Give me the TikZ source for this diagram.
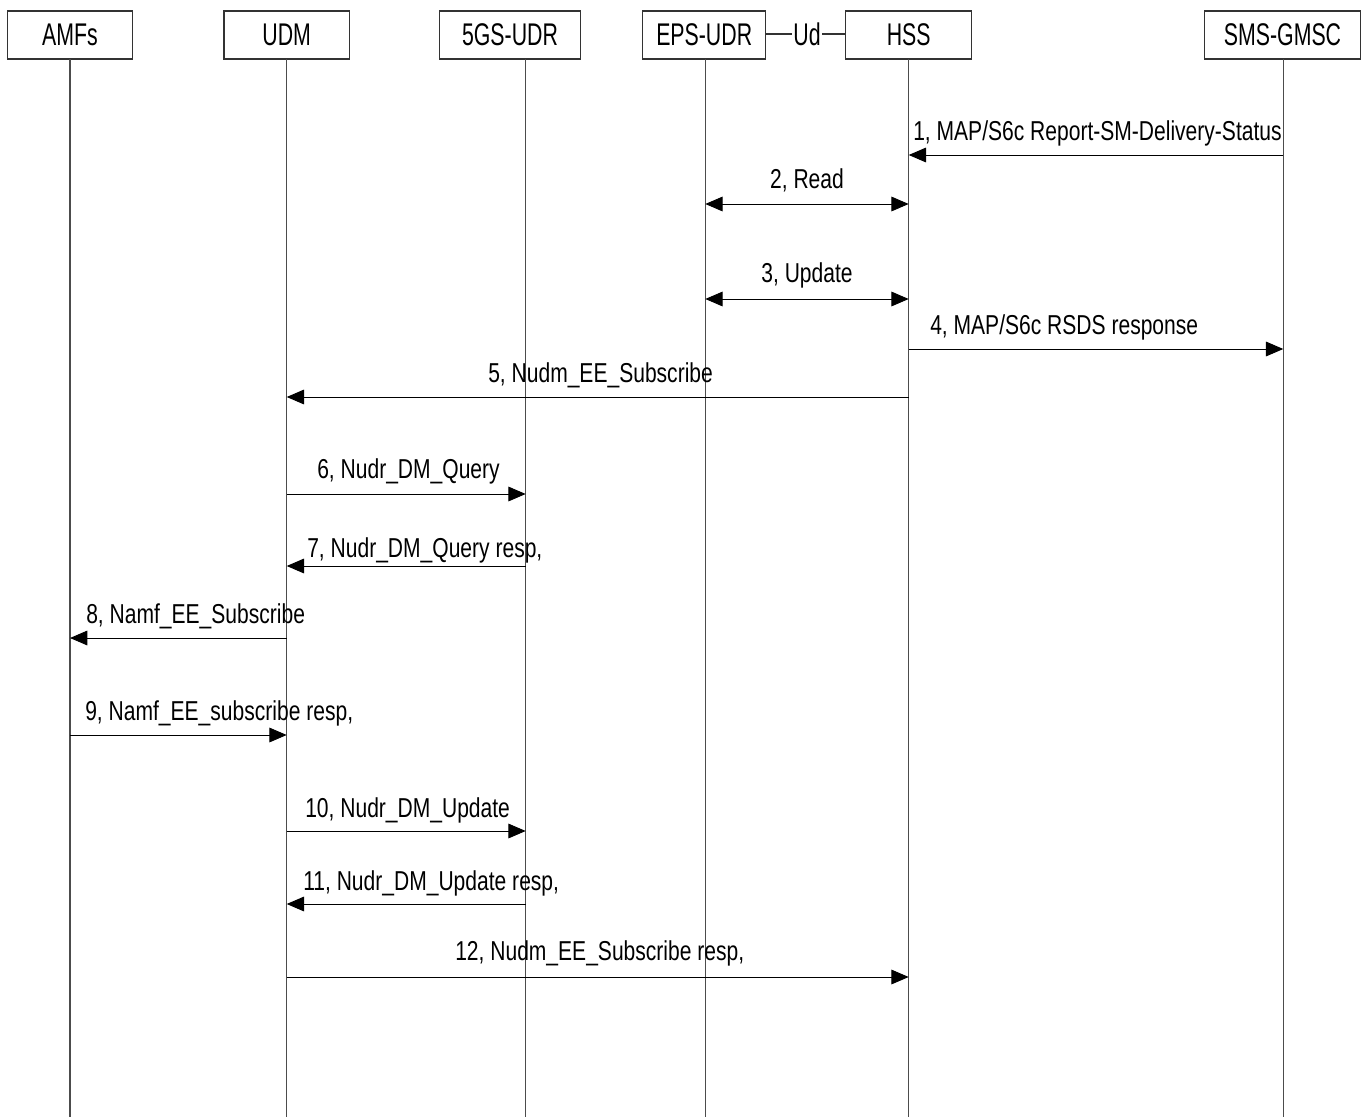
\documentclass[tikz,border=0pt]{standalone}
\usepackage{fontspec}
\setmainfont{Liberation Sans}
\newfontfamily\hdrfont[FakeStretch=0.68]{Liberation Sans}
\newfontfamily\msgfont[FakeStretch=0.77]{Liberation Sans}
\usetikzlibrary{arrows.meta}
\begin{document}
\begin{tikzpicture}[x=0.75pt,y=-0.75pt,
  entity/.style={draw=black!80,line width=0.9pt,fill=white,minimum height=36pt,inner sep=0pt,
    font=\hdrfont\fontsize{23.5pt}{25pt}\selectfont},
  life/.style={draw=black!70,line width=1.1pt},
  msg/.style={draw=black,line width=0.75pt,-{Triangle[length=13pt,width=11pt]}},
  dmsg/.style={draw=black,line width=0.75pt,{Triangle[length=13pt,width=11pt]}-{Triangle[length=13pt,width=11pt]}},
  lbl/.style={inner sep=0pt,font=\msgfont\fontsize{20.5pt}{22pt}\selectfont}]
\useasboundingbox[fill=white] (0,0) rectangle (1367,1117);
% entities
\node[entity,minimum width=94pt] (amf) at (70,35) {AMFs};
\node[entity,minimum width=94pt] (udm) at (286.7,35) {UDM};
\node[entity,minimum width=106pt] (udr) at (510,35) {5GS-UDR};
\node[entity,minimum width=92.3pt] (eps) at (704.2,35) {EPS-UDR};
\node[entity,minimum width=94.5pt] (hss) at (908.7,35) {HSS};
\node[entity,minimum width=117.3pt] (gmsc) at (1282.5,35) {SMS-GMSC};
% Ud interface
\node[inner sep=1pt,fill=white,font=\hdrfont\fontsize{23.5pt}{25pt}\selectfont] (ud) at (807,34) {Ud};
\draw[draw=black!80,line width=0.9pt] (eps.east |- ud) -- (ud.west);
\draw[draw=black!80,line width=0.9pt] (ud.east) -- (hss.west |- ud);
% lifelines
\coordinate (Lamf) at (70,59);   \coordinate (Bamf) at (70,1117);
\coordinate (Ludm) at (286.7,59); \coordinate (Budm) at (286.7,1117);
\coordinate (Ludr) at (525.7,59); \coordinate (Budr) at (525.7,1117);
\coordinate (Leps) at (705.3,59); \coordinate (Beps) at (705.3,1117);
\coordinate (Lhss) at (908.7,59); \coordinate (Bhss) at (908.7,1117);
\coordinate (Lgmsc) at (1283.3,59); \coordinate (Bgmsc) at (1283.3,1117);
\foreach \n in {amf,udm,udr,eps,hss,gmsc} {\draw[life] (L\n) -- (B\n);}
% message levels
\coordinate (m1) at (0,155);
\coordinate (m2) at (0,204);
\coordinate (m3) at (0,299);
\coordinate (m4) at (0,349);
\coordinate (m5) at (0,397);
\coordinate (m6) at (0,494);
\coordinate (m7) at (0,566);
\coordinate (m8) at (0,638);
\coordinate (m9) at (0,735);
\coordinate (m10) at (0,831);
\coordinate (m11) at (0,904);
\coordinate (m12) at (0,977);
% messages
\draw[msg] (Lgmsc |- m1) -- (Lhss |- m1);
\draw[dmsg] (Leps |- m2) -- (Lhss |- m2);
\draw[dmsg] (Leps |- m3) -- (Lhss |- m3);
\draw[msg] (Lhss |- m4) -- (Lgmsc |- m4);
\draw[msg] (Lhss |- m5) -- (Ludm |- m5);
\draw[msg] (Ludm |- m6) -- (Ludr |- m6);
\draw[msg] (Ludr |- m7) -- (Ludm |- m7);
\draw[msg] (Ludm |- m8) -- (Lamf |- m8);
\draw[msg] (Lamf |- m9) -- (Ludm |- m9);
\draw[msg] (Ludm |- m10) -- (Ludr |- m10);
\draw[msg] (Ludr |- m11) -- (Ludm |- m11);
\draw[msg] (Ludm |- m12) -- (Lhss |- m12);
% labels
\node[lbl,anchor=base west] (t1) at (913,140) {1, MAP/S6c Report-SM-Delivery-Status};
\node[lbl,anchor=base] (t2) at (807,188) {2, Read};
\node[lbl,anchor=base] (t3) at (807,282) {3, Update};
\node[lbl,anchor=base west] (t4) at (930,334) {4, MAP/S6c RSDS response};
\node[lbl,anchor=base west] (t5) at (488,382) {5, Nudm\_EE\_Subscribe};
\node[lbl,anchor=base west] (t6) at (317,478) {6, Nudr\_DM\_Query};
\node[lbl,anchor=base west] (t7) at (307,557) {7, Nudr\_DM\_Query resp,};
\node[lbl,anchor=base west] (t8) at (86,623) {8, Namf\_EE\_Subscribe};
\node[lbl,anchor=base west] (t9) at (85,720) {9, Namf\_EE\_subscribe resp,};
\node[lbl,anchor=base west] (t10) at (305,817) {10, Nudr\_DM\_Update};
\node[lbl,anchor=base west] (t11) at (303,890) {11, Nudr\_DM\_Update resp,};
\node[lbl,anchor=base west] (t12) at (455,960) {12, Nudm\_EE\_Subscribe resp,};
\end{tikzpicture}
\end{document}
